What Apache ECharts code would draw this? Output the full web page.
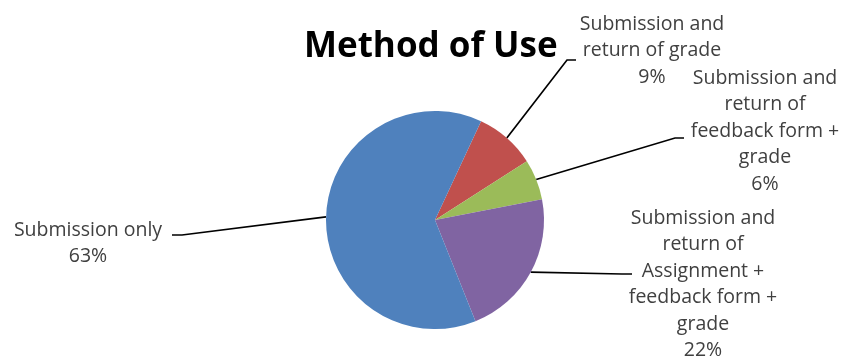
<!DOCTYPE html>
<html><head><meta charset="utf-8">
<script src="https://cdn.jsdelivr.net/npm/echarts@6/dist/echarts.min.js"></script>
<style>html,body{margin:0;padding:0;background:#fff}#c{width:846px;height:358px}</style>
</head><body><div id="c"></div>
<script>
const titleText = 'Method of Use';
const categories = [
  'Submission and\nreturn of grade',
  'Submission and\nreturn of\nfeedback form +\ngrade',
  'Submission and\nreturn of\nAssignment +\nfeedback form +\ngrade',
  'Submission only'
];
const values = [9, 6, 22, 63];
const colors = ['#C0504D', '#9BBB59', '#8064A2', '#4F81BD'];

// label placement: text block top-centre, leader line elbow and end
const labelPos = [
  { x: 652, y: 11, elbow: [567, 60], end: [576, 60] },
  { x: 765, y: 65, elbow: [675, 138], end: [684, 138] },
  { x: 703, y: 205, elbow: [622, 274], end: [632, 274] },
  { x: 88, y: 217, elbow: [182, 235], end: [172, 235] }
];

const chart = echarts.init(document.getElementById('c'), null, { renderer: 'canvas' });
chart.setOption({
  animation: false,
  backgroundColor: '#ffffff',
  title: {
    text: titleText,
    left: 304,
    top: 30,
    padding: 0,
    textStyle: { fontFamily: 'Open Sans', fontWeight: 'bold', fontSize: 35, color: '#000' }
  },
  series: [{
    type: 'pie',
    center: [435, 220],
    radius: 109,
    startAngle: 65,
    clockwise: true,
    data: categories.map((n, i) => ({ name: n, value: values[i], itemStyle: { color: colors[i] } })),
    itemStyle: { borderWidth: 0 },
    label: {
      show: true,
      position: 'outside',
      formatter: p => p.name + '\n' + p.percent + '%',
      fontFamily: 'Open Sans',
      fontSize: 19.5,
      lineHeight: 26.5,
      color: '#404040',
      align: 'center'
    },
    labelLine: { show: true, lineStyle: { color: '#000', width: 1.7 } },
    labelLayout: function (params) {
      const p = labelPos[params.dataIndex];
      const pts = params.labelLinePoints;
      const res = { x: p.x, y: p.y, align: 'center', verticalAlign: 'top' };
      if (pts && pts.length) res.labelLinePoints = [pts[0], p.elbow, p.end];
      return res;
    },
    emphasis: { disabled: true }
  }]
});
</script>
</body></html>
